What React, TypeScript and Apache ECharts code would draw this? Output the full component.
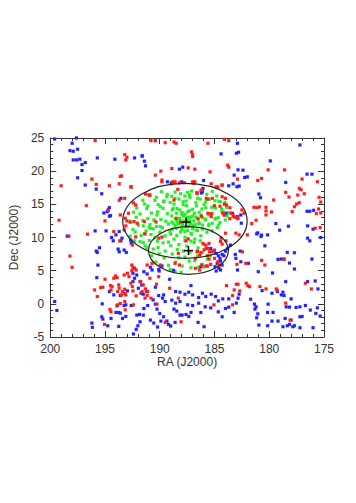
import React, { useEffect, useRef } from "react";
import * as echarts from "echarts";

// RA, Dec (J2000) of the plotted sources
const redPoints: number[][] = [
  [195.9,24.6],[193.2,22.5],[193.0,22.1],[193.1,21.7],[193.6,19.2],[193.5,19.3],[196.2,18.8],[199.0,17.8],[195.8,18.0],[194.6,17.8],[193.7,18.1],[192.6,17.6],[193.2,15.9],[193.7,15.6],[196.7,14.8],[192.4,15.2],[192.2,14.9],[193.6,13.4],[194.7,14.1],[199.2,12.6],[195.0,12.5],[193.0,12.5],[192.7,12.3],[196.6,10.5],[198.3,10.2],[194.2,10.9],
  [190.8,24.6],[190.4,24.6],[189.5,24.3],[188.7,24.4],[188.5,24.2],[185.6,24.2],[184.1,24.8],[183.7,24.6],[187.1,22.9],[187.0,22.5],[187.0,22.2],[183.8,20.9],[183.7,20.6],[189.9,20.0],[188.9,20.4],[187.4,20.5],[186.8,20.3],[185.4,19.9],[190.4,19.4],[189.8,18.4],[188.9,18.1],[188.6,18.4],[187.0,18.4],[186.8,18.4],[186.9,18.2],[185.3,18.1],[184.7,17.6],[184.3,17.9],[190.9,16.4],[186.6,16.7],[185.6,15.8],[185.2,15.9],[185.0,14.8],[184.5,14.7],[184.1,15.0],[183.9,14.9],[186.2,13.2],[186.5,12.8],[185.3,13.6],[184.1,13.4],[191.4,12.4],[183.6,14.5],
  [180.1,20.2],[178.6,20.2],[182.9,18.8],[181.05,18.6],[180.7,18.9],[177.0,18.8],[175.6,18.4],[177.25,17.4],[177.1,17.2],[178.5,16.8],[178.2,16.1],[177.4,16.4],[176.8,16.6],[179.6,15.65],[177.7,14.65],[177.5,15.05],[177.25,15.25],[175.45,16.05],[175.3,15.35],[177.9,13.9],[179.8,13.85],[175.5,14.3],[175.7,13.6],[175.3,13.7],[181.4,14.55],[181.15,14.5],[180.9,14.6],[180.3,14.55],[180.3,14.0],[180.3,13.4],[181.2,12.6],[181.6,12.1],[182.9,12.9],[183.2,13.1],[182.3,13.65],[182.5,14.15],[175.35,11.5],[175.8,11.4],
  [198.2,7.2],[198.0,5.5],[193.65,9.5],[192.2,10.1],[192.55,5.85],[192.4,5.35],[192.15,5.1],[194.05,4.2],[193.9,3.95],[194.2,3.85],[193.25,4.35],[192.95,4.6],[192.8,4.1],[195.0,3.7],[194.5,2.75],[194.35,2.6],[195.4,2.45],[195.2,2.5],[195.95,2.1],[195.7,1.1],[193.75,2.85],[193.7,2.35],[193.2,2.2],[193.4,1.85],[193.2,1.55],[193.5,1.35],[193.85,1.85],[193.1,1.35],[192.65,3.1],[192.5,2.6],[192.45,1.95],[194.45,2.1],[193.6,0.05],[193.85,-0.15],[193.2,0.35],[193.15,-0.9],[194.55,-0.85],[194.45,-1.2],[195.05,-3.1],[192.15,1.2],[192.4,-0.15],
  [187.6,9.5],[187.4,9.8],[186.55,7.95],[186.25,7.75],[185.95,8.15],[185.65,8.35],[185.8,8.85],[185.5,9.1],[185.25,7.85],[186.15,5.85],[185.65,5.7],[185.35,5.95],[185.65,7.25],[185.5,6.75],[188.3,7.6],[188.6,6.1],[189.95,5.85],[191.75,3.35],[191.5,2.85],[191.3,2.25],[191.1,1.85],[191.6,1.85],[191.15,1.25],[191.35,0.85],[190.8,0.85],[190.9,3.85],[190.1,4.1],[190.3,2.95],[189.1,2.35],[188.3,0.85],[188.05,-2.7],[183.9,2.75],[185.05,-0.15],[189.5,-2.8],[190.25,-0.05],[184.45,9.4],[184.3,9.0],
  [182.0,10.4],[180.7,6.55],[180.4,5.85],[182.95,5.95],[178.65,6.7],[180.85,2.6],[183.0,2.95],[182.85,2.95],[182.1,3.1],[181.95,2.75],[181.8,2.6],[180.3,2.25],[179.35,2.25],[179.3,2.05],[176.7,3.1],[176.15,2.25],[183.2,2.1],[183.35,1.25],[182.7,1.95],[178.5,0.1],[178.1,-2.45],[183.35,-0.15],
  [192.65,17.65],[191.3,16.55],[191.0,16.4],[189.8,18.65],[188.8,18.4],[188.2,18.25],[192.85,13.65],[192.35,12.4],[192.05,12.15],[193.1,11.75],[193.25,11.15],[190.35,12.35],[191.35,10.55],[192.5,8.85],[190.1,9.9],[189.8,10.05],[188.5,12.9],[188.1,12.3],[188.7,15.65],[188.35,17.25],[190.7,6.1],[191.15,5.85],[192.45,5.5],[192.55,5.0],[188.2,5.85],[187.75,18.25],[193.15,12.9],
  [186.6,16.75],[186.2,17.15],[184.3,17.9],[184.85,17.65],[185.75,15.9],[184.3,16.15],[184.0,15.9],[185.6,13.65],[184.25,13.65],[184.1,13.4],[183.5,13.65],[183.3,13.25],[183.05,13.05],[182.85,12.85],[183.6,12.85],[185.3,13.15],[183.05,10.65],[182.75,10.4],[184.4,9.9],[183.95,9.5],[184.0,10.65],[186.05,9.1],[185.75,8.35],[185.45,7.85],[185.0,8.1],[186.6,7.85],[186.35,7.35],[186.75,6.85],[185.0,6.85],[184.7,6.35],[184.55,5.85],[186.75,5.35],[186.35,5.1],[185.75,5.7],[182.45,7.85],[182.15,6.1]
];

const bluePoints: number[][] = [
  [199.6,24.85],[198.0,24.2],[197.6,25.0],[198.2,23.1],[197.9,23.0],[197.5,23.3],[197.9,21.7],[197.6,21.7],[197.3,21.8],[196.8,21.3],[197.1,21.0],[195.7,22.0],[197.1,20.1],[194.1,21.8],[192.3,22.0],[191.6,22.3],[197.5,19.0],[196.8,17.9],[195.8,17.3],[195.3,16.6],[194.6,14.5],[194.7,14.2],[194.8,13.9],[194.5,13.3],[194.6,13.2],[195.1,13.7],[195.9,11.0],[194.9,11.0],[194.0,10.4],[193.7,10.9],
  [190.4,24.6],[191.6,22.3],[191.4,21.5],[191.3,20.8],[188.2,20.3],[187.9,20.6],[189.3,18.4],[188.0,18.4],[186.1,16.9],[184.4,22.6],[186.0,18.6],[183.7,17.8],[183.3,18.1],[186.2,16.7],
  [182.9,24.2],[182.8,22.85],[183.0,22.7],[177.2,23.95],[179.9,21.55],[182.85,20.2],[182.4,20.15],[183.2,19.4],[182.25,19.05],[182.0,19.15],[182.75,17.75],[182.95,17.65],[176.55,19.55],[176.1,19.55],[178.5,18.3],[180.95,16.55],[180.8,16.0],[176.55,13.95],[176.3,13.95],[175.95,14.1],[179.4,12.1],[178.25,11.7],[179.05,11.1],[176.5,11.75],[176.0,11.25],[181.05,10.7],[181.15,10.55],[180.7,10.35],
  [186.05,17.4],[183.95,13.65],[183.35,13.65],[182.9,13.15],[182.6,13.4],[182.55,12.15],[182.6,6.35],[181.9,6.1],[182.9,5.1],
  [193.55,15.9],[193.45,9.9],[188.95,18.25],[190.85,5.5],[190.7,5.1],[190.1,5.2],[189.8,5.7],[191.45,4.85],[191.15,4.5],
  [198.45,10.2],[194.4,10.0],[194.25,9.5],[193.55,9.5],[193.8,8.25],[193.7,7.85],[193.25,8.1],[193.05,7.75],[195.8,7.95],[195.7,7.75],[195.5,8.45],[195.65,5.85],[192.65,9.6],[192.6,9.15],[192.3,5.35],[192.1,4.35],[192.45,4.6],[195.75,3.95],[192.3,3.85],[194.6,1.85],[194.2,1.35],[193.6,1.25],[192.95,1.95],[192.45,3.35],[191.8,3.35],[191.65,2.85],[191.95,2.35],[191.7,1.6],[199.6,0.35],[199.4,-1.0],[195.25,0.0],[193.9,-0.3],[193.25,-0.25],[193.1,-0.15],[192.6,-0.25],[192.1,-1.7],[191.85,-1.6],[195.3,-1.95],[195.2,-2.3],[194.45,-2.2],[194.0,-1.3],[193.75,-1.3],[193.6,-1.4],[193.1,-1.9],[193.75,-3.4],[194.75,-3.3],[196.2,-2.9],[196.15,-3.55],[192.0,-3.3],[192.15,-3.85],[192.4,-4.55],[191.8,-2.7],[193.4,-2.2],
  [185.35,8.35],[185.05,7.95],[184.85,7.6],[184.65,7.25],[184.5,6.85],[184.3,7.45],[184.45,6.45],[184.75,6.1],[184.6,5.35],[184.85,4.95],[184.45,5.1],[184.15,7.25],[184.0,7.95],[183.8,8.35],[183.55,8.85],[184.3,5.85],[184.95,5.6],[188.75,5.05],[190.05,4.95],[189.1,3.7],[186.25,5.6],
  [191.2,1.85],[191.5,1.45],[190.1,1.25],[189.65,1.35],[188.55,1.85],[188.15,1.75],[187.7,1.45],[187.35,1.75],[187.0,1.35],[186.45,0.95],[186.1,1.6],[185.8,1.1],[185.3,1.45],[184.9,1.1],[187.15,2.75],[190.4,2.5],[189.75,0.85],[189.5,0.35],[190.6,0.6],[190.4,-0.05],[188.9,0.55],[188.55,0.1],[188.15,0.35],[187.45,-0.15],[187.0,-0.25],[186.45,0.1],[185.85,-0.45],[184.65,0.45],[184.25,0.75],[183.7,0.75],[191.1,-0.25],[191.45,-0.7],[191.5,-1.7],[190.25,-0.8],[190.0,-1.45],[189.65,-1.95],[189.35,-2.6],[189.2,-3.1],[189.0,-3.35],[190.85,-2.45],[190.55,-2.9],[188.15,-1.7],[187.95,-1.7],[187.6,-1.6],[187.35,-1.9],[187.15,-1.3],[186.25,-1.3],[186.5,-2.8],[185.95,-3.45],[185.35,-0.6],[184.65,-1.2],[184.0,-0.7],[183.7,-0.5],[188.7,-0.8],[188.45,-1.1],[184.3,-1.95],[190.2,-3.5],[189.9,-2.6],[188.6,-2.8],
  [180.75,10.15],[180.15,10.4],[176.5,9.9],[176.3,9.5],[175.3,10.0],[183.1,7.45],[183.05,6.85],[182.65,7.95],[180.4,8.75],[178.35,7.75],[177.7,7.7],[179.2,6.7],[178.9,6.75],[178.65,6.75],[178.15,6.15],[177.7,5.25],[176.1,6.75],[181.0,4.85],[179.7,4.65],[178.5,3.35],[176.5,3.35],[175.8,3.45],[175.55,2.25],[178.75,1.75],[178.9,1.35],[178.65,1.25],[179.75,1.6],[180.65,2.0],[182.75,1.45],[182.85,0.85],[183.0,0.1],[181.7,0.7],[179.25,1.85],[178.0,0.75],[177.2,-0.45],[177.55,-0.55],[176.7,-0.25],[176.25,-0.95],[175.35,-1.85],[175.75,-1.45],[178.45,-0.45],[178.15,-0.5],[181.35,-0.05],[181.2,-0.45],[181.3,-0.8],[180.1,-0.05],[180.15,-1.3],[179.65,-1.3],[181.05,-1.5],[181.15,-2.1],[179.75,-2.6],[178.55,-2.2],[178.0,-2.45],[177.2,-1.95],[177.0,-1.9],[178.75,-3.45],[178.35,-3.3],[178.15,-3.1],[177.85,-3.45],[177.7,-3.3],[180.95,-3.2],[180.15,-3.3],[177.2,-3.6],[176.0,-3.6],[179.2,-2.6],[183.2,-1.3],[175.6,-0.6]
];

const greenPoints: number[][] = [
  [191.55,15.6],[190.9,16.3],[190.3,16.05],[189.85,16.9],[189.3,16.5],[188.9,16.2],[188.6,16.85],[188.1,16.6],[187.7,16.25],
  [192.1,14.45],[191.4,15.05],[191.1,14.75],[190.45,15.6],[190.15,14.95],[189.6,15.5],[189.05,15.3],[188.7,15.05],[188.25,15.8],[187.85,14.95],
  [192.4,13.8],[191.8,13.55],[191.2,14.35],[190.75,13.7],[190.2,13.85],[189.7,14.4],[189.3,13.6],[188.85,14.2],[188.4,14.35],[187.95,13.75],
  [192.7,12.45],[192.15,13.05],[191.55,12.55],[191.1,12.85],[190.9,11.95],[190.5,12.6],[189.9,12.7],[189.45,12.45],[188.9,13.25],[188.55,12.75],[188.0,13.5],[187.8,12.5],
  [192.45,11.2],[191.95,11.85],[191.5,11.75],[191.25,11.0],[190.95,11.5],[190.6,11.3],[190.3,11.65],[189.75,11.45],[189.2,12.05],[188.85,11.25],[188.3,12.0],[187.95,11.8],
  [192.7,10.2],[192.25,10.8],[191.7,10.3],[191.4,10.55],[190.8,10.45],[190.45,9.95],[190.0,10.8],[189.5,10.25],[189.0,10.5],[188.45,10.3],[188.1,10.8],
  [192.3,9.5],[191.8,9.4],[191.5,9.25],[190.95,9.55],[190.2,9.45],[189.7,9.2],[189.2,9.3],[188.7,9.75],[188.25,8.95],[187.7,9.5],
  [191.35,8.75],[191.2,8.45],[190.6,8.25],[190.15,8.5],[189.5,7.95],[189.0,8.75],[188.4,8.2],[187.85,7.95],
  [190.75,7.25],[190.05,7.55],[189.6,6.9],[188.85,7.5],[188.25,6.95],[187.7,7.05],
  [190.35,6.3],[189.85,5.65],[189.2,5.8],[188.55,6.3],[187.95,5.7],
  [189.05,5.15],[188.6,4.9],[188.05,4.75],
  [187.45,16.8],[187.1,17.0],[186.55,16.55],[186.25,17.1],[185.7,16.5],[185.2,16.95],[184.8,16.25],
  [187.6,15.5],[187.25,16.05],[186.7,15.25],[186.3,15.8],[185.95,15.0],[185.5,15.75],[184.95,15.55],[184.6,15.45],[184.05,15.3],
  [187.55,14.8],[187.0,14.25],[186.65,14.75],[186.15,14.3],[185.8,14.5],[185.25,14.55],[184.9,14.45],[184.35,14.3],[183.9,14.55],[183.7,13.75],
  [187.7,13.5],[187.3,14.05],[186.95,13.25],[186.4,13.8],[186.1,13.0],[185.55,13.5],[185.2,13.6],[184.65,13.0],[184.2,13.8],[183.85,13.25],
  [187.45,13.05],[187.25,12.5],[186.7,13.05],[186.4,12.25],[185.85,12.8],[185.5,12.0],[184.95,12.8],[184.5,12.25],
  [187.3,11.75],[186.95,11.8],[186.4,12.05],[186.1,11.25],[185.55,11.8],[185.2,11.0],[184.75,11.5],
  [187.45,11.05],[187.1,10.5],[186.55,11.05],[186.25,10.25],[185.7,10.8],
  [187.7,10.05],[187.15,9.45],[186.8,9.75],[186.3,9.5],
  [187.55,8.7],[186.85,9.25],[186.5,8.45],[186.0,9.0],
  [187.25,7.75],[186.55,7.2],[186.1,7.7],[185.4,7.25],
  [187.3,6.45],[186.8,6.5],[186.15,5.95],[185.65,6.75],
  [187.15,5.45],[186.5,5.5],[185.95,5.55],
  [188.76,14.4],[188.47,13.64],[188.17,14.14],[187.87,13.39],[187.43,13.89],[187.13,13.14],[186.83,13.64],[186.54,12.89],[186.24,13.39],[188.17,12.64],[187.93,11.88],[187.43,11.63],[187.28,12.38],[186.98,11.88],[186.69,11.13],[188.47,11.38],[188.76,12.13],[189.06,10.88],[187.72,10.88],[187.13,10.63],[186.09,11.88],[185.8,12.64],[185.5,13.39],[185.2,12.13],[184.91,12.89],[184.61,11.88],[184.31,13.89],[184.02,12.64],[189.65,15.4],[189.95,14.65],[189.36,16.15],[188.61,15.9],[187.87,15.4],[187.28,16.4],[186.54,15.9],[185.8,15.4],[185.05,14.65],[184.46,15.4],[190.54,12.64],[190.25,13.39],[190.84,11.38],[189.95,11.63],
  [187.5,12.6],[187.9,12.0],[187.2,12.1],[188.2,12.9],[186.9,12.5],[187.6,11.6],[188.0,11.2],[187.3,13.0],[186.7,12.0],[188.4,12.4],[187.8,13.2],[188.6,11.8],[187.0,11.3],[188.9,12.3],[187.4,12.3]
];

// Ellipses: [RA centre, Dec centre, RA semi-axis, Dec semi-axis]
const ellipses: number[][] = [
  [187.7, 12.5, 5.68, 5.65],
  [187.38, 8.04, 3.65, 3.59],
];
// Cluster centres (crosses)
const crosses: number[][] = [
  [187.6, 12.33],
  [187.38, 8.02],
];

const xTicks = { min: 175, max: 200, interval: 5 };
const yTicks = { min: -5, max: 25, interval: 5 };

const FONT = "'Liberation Sans', Arial, sans-serif";
const INK = "#333";

export default function App() {
  const ref = useRef<HTMLDivElement>(null);
  useEffect(() => {
    if (!ref.current) return;
    const chart = echarts.init(ref.current, undefined, { renderer: "svg" });
    const axisLine = { show: true, onZero: false, lineStyle: { color: INK, width: 1 } };
    const axisTick = { show: true, inside: true, length: 6, lineStyle: { color: INK, width: 1 } };
    const minorTick = { show: true, splitNumber: 5, length: 3, lineStyle: { color: INK, width: 1 } };
    const labelStyle = { fontFamily: FONT, fontSize: 12, color: INK };
    const pointSeries = (data: number[][], color: string, halo: string, z: number) => ({
      type: "scatter",
      data,
      symbol: "rect",
      symbolSize: 3,
      z,
      itemStyle: { color, borderColor: halo, borderWidth: 0.6, opacity: 1 },
      emphasis: { disabled: true },
    });
    chart.setOption({
      animation: false,
      backgroundColor: "#ffffff",
      grid: { left: 43, right: 32, top: 138, bottom: 166, containLabel: false },
      xAxis: [
        {
          type: "value", position: "bottom", inverse: true, ...xTicks,
          name: "RA (J2000)", nameLocation: "middle", nameGap: 17,
          nameTextStyle: labelStyle,
          axisLine, axisTick, minorTick,
          axisLabel: { ...labelStyle, margin: 6 },
          splitLine: { show: false },
        },
        {
          type: "value", position: "top", inverse: true, ...xTicks,
          axisLine, axisTick, minorTick,
          axisLabel: { show: false },
          splitLine: { show: false },
        },
      ],
      yAxis: [
        {
          type: "value", position: "left", ...yTicks,
          name: "Dec (J2000)", nameLocation: "middle", nameGap: 22,
          nameTextStyle: labelStyle,
          axisLine, axisTick, minorTick,
          axisLabel: { ...labelStyle, margin: 6 },
          splitLine: { show: false },
        },
        {
          type: "value", position: "right", ...yTicks,
          axisLine, axisTick, minorTick,
          axisLabel: { show: false },
          splitLine: { show: false },
        },
      ],
      series: [
        pointSeries(greenPoints, "#22ee22", "rgba(60,255,60,0.35)", 2),
        pointSeries(bluePoints, "#2020ff", "rgba(60,60,255,0.35)", 3),
        pointSeries(redPoints, "#ff1a1a", "rgba(255,60,60,0.35)", 4),
        {
          type: "custom",
          z: 5,
          data: ellipses,
          renderItem: (_p: any, api: any) => {
            const c = api.coord([api.value(0), api.value(1)]);
            const s = api.size([api.value(2), api.value(3)]);
            return {
              type: "ellipse",
              shape: { cx: c[0], cy: c[1], rx: s[0], ry: s[1] },
              style: { fill: "none", stroke: "#222", lineWidth: 1.2 },
            };
          },
        },
        {
          type: "custom",
          z: 6,
          data: crosses,
          renderItem: (_p: any, api: any) => {
            const c = api.coord([api.value(0), api.value(1)]);
            const h = 4.5;
            const st = { stroke: "#000", lineWidth: 1.5 };
            return {
              type: "group",
              children: [
                { type: "line", shape: { x1: c[0] - h, y1: c[1], x2: c[0] + h, y2: c[1] }, style: st },
                { type: "line", shape: { x1: c[0], y1: c[1] - h, x2: c[0], y2: c[1] + h }, style: st },
              ],
            };
          },
        },
      ],
    });
    return () => chart.dispose();
  }, []);
  return (
    <div
      ref={ref}
      style={{ position: "absolute", left: 0, top: 0, width: 356, height: 503, background: "#fff" }}
    />
  );
}
